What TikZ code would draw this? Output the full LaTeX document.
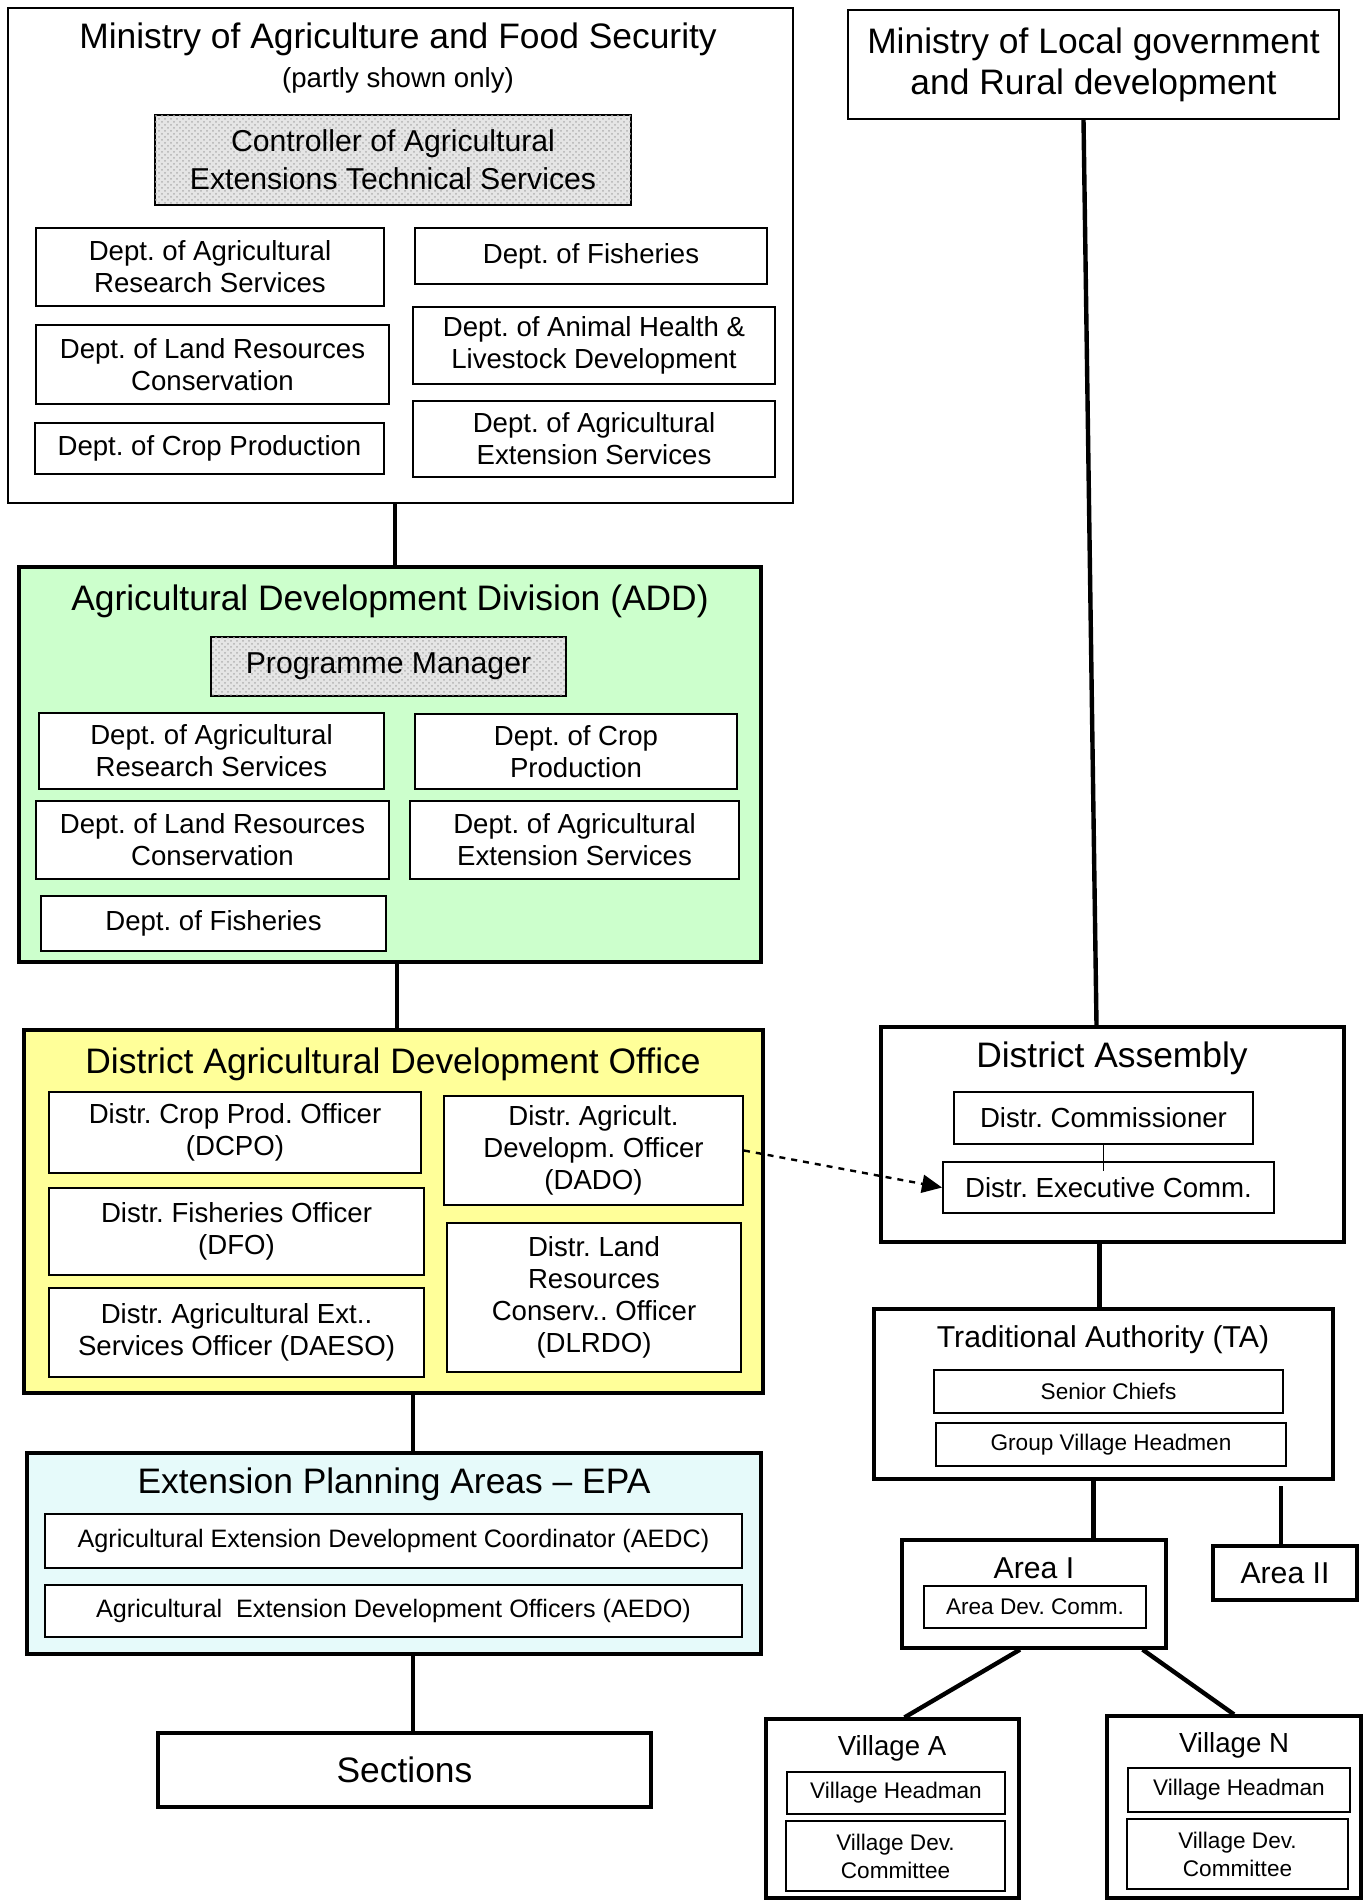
\documentclass[tikz,border=0pt]{standalone}
\usepackage{fontspec}
\setmainfont{Liberation Sans}
\usetikzlibrary{arrows.meta,patterns}
\frenchspacing

\newcommand\fBig{\fontsize{17.7}{20.6}\selectfont}
\newcommand\fMid{\fontsize{15.1}{18.8}\selectfont}
\newcommand\fNorm{\fontsize{13.8}{16}\selectfont}
\newcommand\fSmall{\fontsize{12.6}{15}\selectfont}
\newcommand\fTiny{\fontsize{11.3}{14}\selectfont}

\definecolor{addgreen}{HTML}{CCFFCC}
\definecolor{officeyellow}{HTML}{FFFF99}
\definecolor{epacyan}{HTML}{E6FAFA}

\tikzset{
  outer/.style={draw, line width=1.6pt, inner sep=0pt},
  ministry/.style={draw, line width=1.1pt, inner sep=0pt, align=center},
  dept/.style={draw, line width=1pt, inner sep=0pt, align=center, font=\fNorm},
  shaded/.style={dept, font=\fMid, fill=black!10,
    postaction={pattern=crosshatch dots, pattern color=black!30}},
  link/.style={line width=2.2pt},
}

\begin{document}
\begin{tikzpicture}[x=0.5pt,y=-0.5pt]
\useasboundingbox (0,0) rectangle (1366,1904);

\node[ministry, minimum width=392.5pt, minimum height=247.5pt] (minAg) at (400.5,255.5) {};
\node[font=\fBig] (minAgT) at (398,39) {Ministry of Agriculture and Food Security};
\node[font=\fNorm] (minAgS) at (398,80) {(partly shown only)};
\node[shaded, minimum width=238pt, minimum height=45pt] (ctrl) at (393,160) {Controller of Agricultural\\Extensions Technical Services};
\node[dept, minimum width=174pt, minimum height=39pt] (mAR) at (210,267) {Dept. of Agricultural\\Research Services};
\node[dept, minimum width=176pt, minimum height=28pt] (mFi) at (591,256) {Dept. of Fisheries};
\node[dept, minimum width=176.5pt, minimum height=39.5pt] (mLR) at (212.5,364.5) {Dept. of Land Resources\\Conservation};
\node[dept, minimum width=181pt, minimum height=38.5pt] (mAH) at (594,345.5) {Dept. of Animal Health \&\\Livestock Development};
\node[dept, minimum width=174.5pt, minimum height=25.5pt] (mCP) at (209.5,448.5) {Dept. of Crop Production};
\node[dept, minimum width=181pt, minimum height=38pt] (mAE) at (594,439) {Dept. of Agricultural\\Extension Services};

\node[outer, fill=addgreen, minimum width=371pt, minimum height=197.5pt] (add) at (390,764.5) {};
\node[font=\fBig] (addT) at (390,601) {Agricultural Development Division (ADD)};
\node[shaded, minimum width=177.5pt, minimum height=29.5pt] (pm) at (388.5,666.5) {Programme Manager};
\node[dept, fill=white, minimum width=172.5pt, minimum height=38pt] (aAR) at (211.5,751) {Dept. of Agricultural\\Research Services};
\node[dept, fill=white, minimum width=161pt, minimum height=37.5pt] (aCP) at (576,751.5) {Dept. of Crop\\Production};
\node[dept, fill=white, minimum width=176.5pt, minimum height=39pt] (aLR) at (212.5,840) {Dept. of Land Resources\\Conservation};
\node[dept, fill=white, minimum width=164.5pt, minimum height=39pt] (aAE) at (574.5,840) {Dept. of Agricultural\\Extension Services};
\node[dept, fill=white, minimum width=172.5pt, minimum height=27.5pt] (aFi) at (213.5,923.5) {Dept. of Fisheries};

\node[outer, fill=officeyellow, minimum width=369.5pt, minimum height=181.5pt] (office) at (393.5,1211.5) {};
\node[font=\fBig] (officeT) at (393,1064) {District Agricultural Development Office};
\node[dept, fill=white, minimum width=186pt, minimum height=40.5pt] (dcpo) at (235,1132.5) {Distr. Crop Prod. Officer\\(DCPO)};
\node[dept, fill=white, minimum width=149.5pt, minimum height=54.5pt] (dado) at (593.5,1150.5) {Distr. Agricult.\\Developm. Officer\\(DADO)};
\node[dept, fill=white, minimum width=187.5pt, minimum height=43.5pt] (dfo) at (236.5,1231.5) {Distr. Fisheries Officer\\(DFO)};
\node[dept, fill=white, minimum width=147pt, minimum height=74.5pt] (dlrdo) at (594,1297.5) {Distr. Land\\Resources\\Conserv.. Officer\\(DLRDO)};
\node[dept, fill=white, minimum width=187.5pt, minimum height=44.5pt] (daeso) at (236.5,1332.5) {Distr. Agricultural Ext..\\Services Officer (DAESO)};

\node[outer, fill=epacyan, minimum width=367pt, minimum height=100.5pt] (epa) at (394,1553.5) {};
\node[font=\fBig] (epaT) at (394,1484) {Extension Planning Areas -- EPA};
\node[dept, font=\fSmall, fill=white, minimum width=348.5pt, minimum height=27pt] (aedc) at (393.5,1541) {Agricultural Extension Development Coordinator (AEDC)};
\node[dept, font=\fSmall, fill=white, minimum width=348.5pt, minimum height=26pt] (aedo) at (393.5,1611) {Agricultural\ \ Extension Development Officers (AEDO)};

\node[outer, font=\fBig, minimum width=246.5pt, minimum height=37pt] (sec) at (404.5,1770) {Sections};

\node[ministry, font=\fBig, minimum width=245.5pt, minimum height=54.5pt] (minLoc) at (1093.5,64.5) {Ministry of Local government\\and Rural development};

\node[outer, minimum width=231.5pt, minimum height=107.5pt] (asm) at (1112.5,1134.5) {};
\node[font=\fBig] (asmT) at (1112,1058) {District Assembly};
\node[dept, minimum width=149.5pt, minimum height=26pt] (comm) at (1103.5,1118) {Distr. Commissioner};
\node[dept, minimum width=165.5pt, minimum height=25.5pt] (exec) at (1108.5,1187.5) {Distr. Executive Comm.};

\node[outer, minimum width=229.5pt, minimum height=85pt] (ta) at (1103.5,1394) {};
\node[font=\fMid] (taT) at (1103,1340) {Traditional Authority (TA)};
\node[dept, font=\fTiny, minimum width=174.5pt, minimum height=21.5pt] (chiefs) at (1108.5,1391.5) {Senior Chiefs};
\node[dept, font=\fTiny, minimum width=175pt, minimum height=21.5pt] (gvh) at (1111,1444.5) {Group Village Headmen};

\node[outer, minimum width=132pt, minimum height=54pt] (areaI) at (1034,1594) {};
\node[font=\fMid] (areaIT) at (1034,1568) {Area I};
\node[dept, font=\fTiny, minimum width=111pt, minimum height=21pt] (adc) at (1035,1607) {Area Dev. Comm.};
\node[outer, font=\fMid, minimum width=72pt, minimum height=27pt] (areaII) at (1285,1573) {Area II};

\node[outer, minimum width=126.5pt, minimum height=89.5pt] (vA) at (892.5,1808.5) {};
\node[font=\fNorm] (vAT) at (892,1748) {Village A};
\node[dept, font=\fTiny, minimum width=109pt, minimum height=21pt] (vAh) at (896,1793) {Village Headman};
\node[dept, font=\fTiny, minimum width=109.5pt, minimum height=35pt] (vAc) at (895.5,1856) {Village Dev.\\Committee};

\node[outer, minimum width=127pt, minimum height=91pt] (vN) at (1234,1807) {};
\node[font=\fNorm] (vNT) at (1234,1745) {Village N};
\node[dept, font=\fTiny, minimum width=111pt, minimum height=22pt] (vNh) at (1239,1790) {Village Headman};
\node[dept, font=\fTiny, minimum width=110.5pt, minimum height=35pt] (vNc) at (1237.5,1854) {Village Dev.\\Committee};

\draw[link] ([xshift=2.5pt]minAg.south -| add.north) -- ([xshift=2.5pt]add.north);
\draw[link] ([xshift=3.5pt]add.south) -- ([xshift=3.5pt]add.south |- office.north);
\draw[link] ([xshift=9.75pt]office.south) -- ([xshift=9.75pt]office.south |- epa.north);
\draw[link] ([xshift=9.5pt]epa.south) -- ([xshift=9.5pt]epa.south |- sec.north);

\draw[link] ([xshift=-5pt]minLoc.south) -- ([xshift=-8pt]asm.north);
\draw[line width=0.8pt] (comm.south) -- ([yshift=-5pt]comm.south |- exec.north);
\draw[line width=1.2pt, dashed, -{Triangle[length=10pt,width=9pt]}] (dado.east) -- (exec.west);
\draw[link] ([xshift=-2pt]ta.north |- asm.south) -- ([xshift=-2pt]ta.north);
\draw[link] ([xshift=-5pt]ta.south) -- ([xshift=-5pt]ta.south |- areaI.north);
\coordinate (areaIItop) at (1281,1486);
\draw[link] (areaIItop) -- (areaIItop |- areaII.north);
\draw[link] ([xshift=-7pt]areaI.south) -- ([xshift=6pt]vA.north);
\draw[link] ([xshift=-12.5pt]areaI.south east) -- (vN.north);
\end{tikzpicture}
\end{document}
